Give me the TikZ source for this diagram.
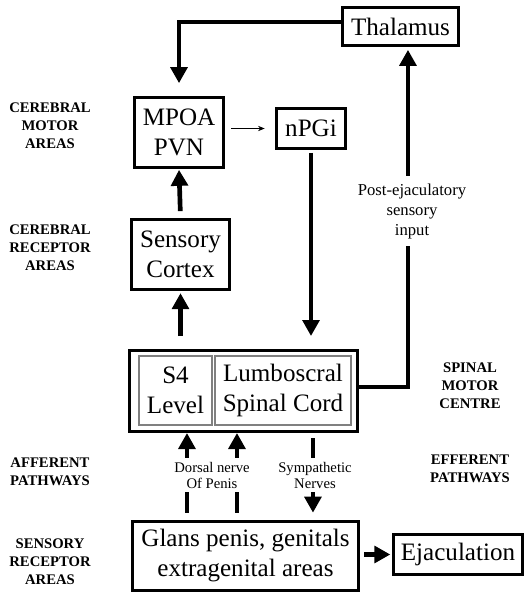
\documentclass[tikz,border=0pt]{standalone}
\usepackage{fontspec}
\setmainfont{Liberation Serif}
\usetikzlibrary{arrows.meta}

\begin{document}
\begin{tikzpicture}[
    x=0.75pt, y=-0.75pt,
    box/.style={draw, line width=2.5pt, align=center, inner sep=0pt, font=\fontsize{18.8}{22.5}\selectfont},
    part/.style={draw=gray, line width=0.8pt, align=center, inner sep=0pt, font=\fontsize{18.8}{22.5}\selectfont},
    area/.style={align=center, font=\bfseries\fontsize{11}{13.5}\selectfont},
    nerve/.style={fill=white, align=center, inner sep=1pt, font=\fontsize{11}{12}\selectfont},
    >={Triangle[length=12pt, width=12.5pt]},
    fibre/.style={->, line width=3.5pt},
    thin/.style={-{Stealth[length=5pt, width=4pt]}, line width=0.6pt}
]
\useasboundingbox (0,0) rectangle (527,593);

\node (thal)   [box, minimum width=87pt, minimum height=28.5pt] at (400.5,26.5) {Thalamus};
\node (mpoa)   [box, minimum width=67pt, minimum height=52.5pt] at (179,132.5) {MPOA\\PVN};
\node (npgi)   [box, minimum width=52pt, minimum height=30pt] at (311,128.5) {nPGi};
\node (cortex) [box, minimum width=73.5pt, minimum height=52.5pt] at (180.5,254.5) {Sensory\\Cortex};

\node (spinal) [box, minimum width=171pt, minimum height=60.5pt] at (243.5,391) {};
\node (s4)     [part, minimum width=54.75pt, minimum height=51.75pt] at (175.5,390.5) {S4\\Level};
\node (lumbo)  [part, minimum width=102pt, minimum height=51.75pt] at (283,390.5) {Lumboscral\\Spinal Cord};

\node (glans)  [box, minimum width=169.5pt, minimum height=52pt] at (245.5,556) {Glans penis, genitals\\extragenital areas};
\node (ejac)   [box, minimum width=97pt, minimum height=30pt] at (458,554.5) {Ejaculation};

\node (motor)    [area] at (50,126) {CEREBRAL\\MOTOR\\AREAS};
\node (receptor) [area] at (50,248) {CEREBRAL\\RECEPTOR\\AREAS};
\node (afferent) [area] at (50,472) {AFFERENT\\PATHWAYS};
\node (sensory)  [area] at (50,562) {SENSORY\\RECEPTOR\\AREAS};
\node (centre)   [area] at (470,386) {SPINAL\\MOTOR\\CENTRE};
\node (efferent) [area] at (470,469) {EFFERENT\\PATHWAYS};

\draw[fibre, shorten >=9.5pt] ([yshift=3.4pt]thal.west) -| (mpoa.north);
\draw[thin, shorten <=4.5pt, shorten >=7.5pt] (mpoa.east |- npgi) -- (npgi);
\draw[fibre, shorten <=2pt, shorten >=9.75pt] (npgi.south) -- (npgi.south |- spinal.north);
\draw[fibre, shorten <=9.75pt, shorten >=1.5pt] (spinal.north -| cortex) -- (cortex.south);
\draw[fibre, shorten <=5pt, shorten >=0.5pt] (cortex.north) -- (mpoa.south);

\draw[fibre, shorten >=2pt] ([yshift=3pt]spinal.east) -| ([xshift=5.6pt]thal.south);
\node (input) [nerve, font=\fontsize{12.5}{15}\selectfont, minimum height=52.5pt] at (412,211) {Post-ejaculatory\\sensory\\input};

\draw[fibre, shorten <=5.25pt] ([xshift=-43.9pt]glans.north) -- ([xshift=-43.9pt]glans.north |- spinal.south);
\draw[fibre, shorten <=5.25pt] ([xshift=-6.4pt]glans.north) -- ([xshift=-6.4pt]glans.north |- spinal.south);
\node (dorsal) [nerve, minimum height=26pt] at (212,475) {Dorsal nerve\\Of Penis};

\draw[fibre, shorten <=3.75pt, shorten >=5.25pt] ([xshift=52.1pt]spinal.south) -- ([xshift=52.1pt]spinal.south |- glans.north);
\node (sympath) [nerve, minimum height=26pt] at (315,475) {Sympathetic\\Nerves};

\draw[fibre, shorten <=3pt, shorten >=1pt] (glans.east |- ejac) -- (ejac);

\end{tikzpicture}
\end{document}
